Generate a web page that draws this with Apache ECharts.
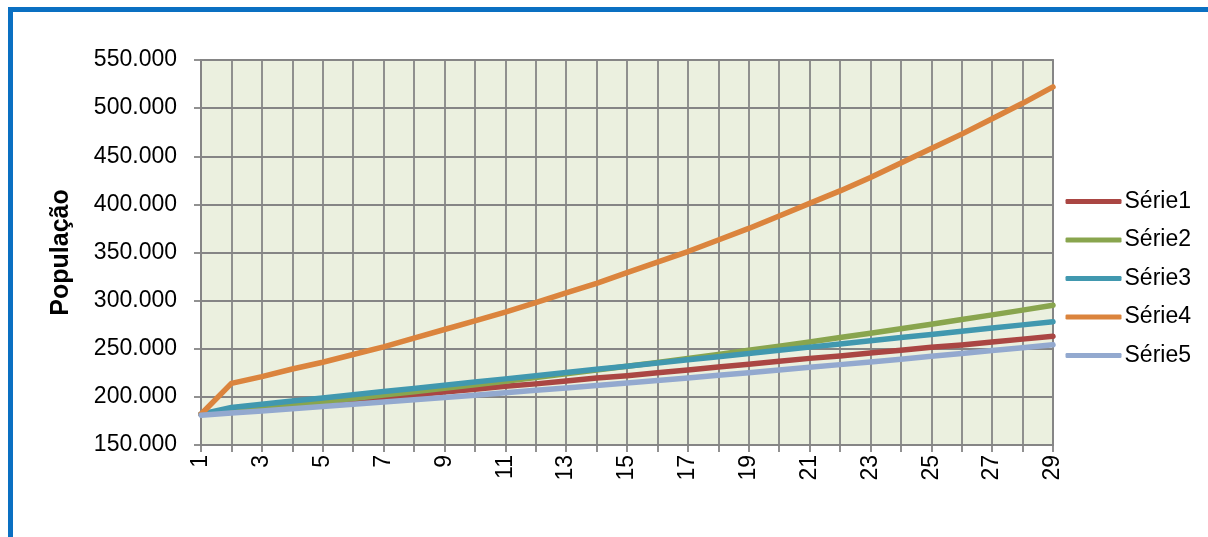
<!DOCTYPE html>
<html>
<head>
<meta charset="utf-8">
<script src="https://cdn.jsdelivr.net/npm/echarts@6/dist/echarts.min.js"></script>
<style>
  html, body { margin: 0; padding: 0; background: #fff; }
  #wrap { position: relative; width: 1208px; height: 537px; overflow: hidden; }
  #frame { position: absolute; left: 8px; top: 7px; width: 1300px; height: 600px;
           border-top: 5px solid #0A70C2; border-left: 5px solid #0A70C2; box-sizing: border-box; }
  #chart { position: absolute; left: 0; top: 0; width: 1208px; height: 537px; }
</style>
</head>
<body>
<div id="wrap">
  <div id="frame"></div>
  <div id="chart"></div>
</div>
<script>
const categories = ['1','2','3','4','5','6','7','8','9','10','11','12','13','14','15','16','17','18','19','20','21','22','23','24','25','26','27','28','29']
const seriesNames = ['Série1', 'Série2', 'Série3', 'Série4', 'Série5']
const serie1 = [182000,184500,187500,190500,193500,196000,199000,202000,205000,208000,211000,213500,216500,219500,222000,225000,228000,231000,234000,237000,240000,242500,245500,248500,251500,254000,257000,260000,263000]
const serie2 = [182000,185200,188400,191700,195000,198400,201900,205400,209000,212600,216300,220100,223900,227800,231800,235800,239900,244100,248400,252700,257100,261600,266100,270800,275500,280300,285200,290100,295200]
const serie3 = [182000,189000,192300,195600,198900,202200,205500,208800,212100,215400,218700,222000,225300,228600,231900,235200,238500,241800,245100,248400,251700,255000,258300,261600,264900,268200,271500,274800,278100]
const serie4 = [182000,214000,221000,229000,236000,244000,252000,261000,270000,279000,288000,298000,308000,318000,329000,340000,351000,363000,375000,388000,401000,414000,428000,443000,458000,473000,489000,505000,522000]
const serie5 = [181000,183200,185400,187700,190000,192300,194600,197000,199400,201800,204300,206800,209300,211900,214500,217100,219700,222400,225100,227900,230700,233500,236300,239200,242100,245100,248100,251100,254200]
const yTicks = { min: 150000, max: 550000, step: 50000 }

const colors = ['#AA4643', '#89A54E', '#4198AF', '#DB843D', '#93A9CF']
const allSeries = [serie1, serie2, serie3, serie4, serie5]
const FONT = '"Liberation Sans", Arial, sans-serif'
const GRID = '#858585'

const chart = echarts.init(document.getElementById('chart'))

function fmt(v) {
  return String(v).replace(/\B(?=(\d{3})+(?!\d))/g, '.')
}

chart.setOption({
  animation: false,
  color: colors,
  grid: {
    left: 201, top: 60, right: 155, bottom: 92,
    show: true, backgroundColor: '#EBF0DF', borderColor: GRID, borderWidth: 1.8,
  },
  legend: {
    orient: 'vertical',
    right: 12,
    top: 185,
    icon: 'roundRect',
    itemWidth: 56,
    itemHeight: 5,
    itemGap: 15.5,
    textStyle: { fontFamily: FONT, fontSize: 23, color: '#000', padding: [0, 0, 0, -2] },
    data: seriesNames,
  },
  xAxis: {
    type: 'category',
    data: categories,
    boundaryGap: false,
    axisLine: { lineStyle: { color: GRID, width: 1.8 } },
    axisTick: { show: true, interval: 0, length: 7, lineStyle: { color: GRID, width: 1.8 } },
    splitLine: { show: true, interval: 0, lineStyle: { color: GRID, width: 1.8 } },
    axisLabel: { interval: 1, rotate: 90, margin: 10, fontFamily: FONT, fontSize: 23, color: '#000' },
  },
  yAxis: {
    type: 'value',
    min: yTicks.min, max: yTicks.max, interval: yTicks.step,
    name: 'População',
    nameLocation: 'middle',
    nameGap: 127,
    nameTextStyle: { fontFamily: FONT, fontSize: 25, fontWeight: 'bold', color: '#000' },
    axisLine: { show: true, lineStyle: { color: GRID, width: 1.8 } },
    axisTick: { show: true, length: 7, lineStyle: { color: GRID, width: 1.8 } },
    splitLine: { show: true, lineStyle: { color: GRID, width: 1.8 } },
    axisLabel: { margin: 24, fontFamily: FONT, fontSize: 23, color: '#000', formatter: fmt },
  },
  series: seriesNames.map((name, i) => ({
    name,
    type: 'line',
    data: allSeries[i],
    symbol: 'none',
    lineStyle: { width: 5.5, color: colors[i], cap: 'round', join: 'round' },
    itemStyle: { color: colors[i] },
  })),
})
</script>
</body>
</html>
